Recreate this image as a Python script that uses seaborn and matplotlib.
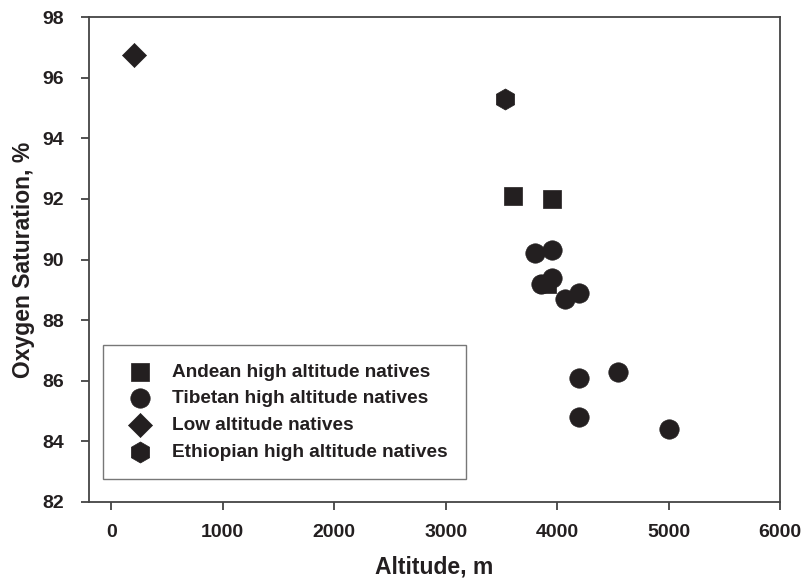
import matplotlib
matplotlib.use("Agg")
import matplotlib.pyplot as plt
import seaborn as sns
import pandas as pd

sns.set_theme(style="ticks")
plt.rcParams['font.family'] = ['Liberation Sans', 'DejaVu Sans']

groups = ["Andean high altitude natives", "Tibetan high altitude natives",
          "Low altitude natives", "Ethiopian high altitude natives"]

andean_alt = [3600, 3950, 3910]
andean_sat = [92.1, 92.0, 89.2]

tibetan_alt = [3800, 3950, 3860, 3950, 4070, 4200, 4200, 4550, 4200, 5000]
tibetan_sat = [90.2, 90.3, 89.2, 89.4, 88.7, 88.9, 86.1, 86.3, 84.8, 84.4]

low_alt = [200]
low_sat = [96.75]

ethiopian_alt = [3530]
ethiopian_sat = [95.3]

xticks = [0, 1000, 2000, 3000, 4000, 5000, 6000]
yticks = [82, 84, 86, 88, 90, 92, 94, 96, 98]

series = [
    (groups[0], andean_alt, andean_sat, "s", 160),
    (groups[1], tibetan_alt, tibetan_sat, "o", 195),
    (groups[2], low_alt, low_sat, "D", 150),
    (groups[3], ethiopian_alt, ethiopian_sat, "h", 230),
]

color = "#231f20"
fig = plt.figure(figsize=(8.02, 5.82), dpi=100)
ax = fig.add_axes([89/802, 1-502/582, (780-89)/802, (502-17)/582])

for name, xs, ys, mk, sz in series:
    df = pd.DataFrame({"Altitude": xs, "Saturation": ys})
    sns.scatterplot(data=df, x="Altitude", y="Saturation", marker=mk, s=sz,
                    color=color, edgecolor=color, linewidth=0.5, ax=ax,
                    label=name, zorder=3 if mk != "s" else 2)

ax.set_xlim(-200, 6000)
ax.set_ylim(82, 98)
ax.set_xticks(xticks)
ax.set_yticks(yticks)
ax.tick_params(axis="both", direction="out", length=6, width=1.2,
               color="#333333", labelsize=14)
ax.tick_params(axis="y", pad=12)
ax.tick_params(axis="x", pad=10)
for lab in ax.get_xticklabels() + ax.get_yticklabels():
    lab.set_fontweight("bold")
    lab.set_color("#231f20")
for sp in ax.spines.values():
    sp.set_visible(True)
    sp.set_linewidth(1.3)
    sp.set_color("#444444")

ax.set_xlabel("Altitude, m", fontsize=16.5, fontweight="bold", color="#231f20", labelpad=10)
ax.set_ylabel("Oxygen Saturation, %", fontsize=16.5, fontweight="bold", color="#231f20", labelpad=5)

leg = ax.legend(loc="lower left", bbox_to_anchor=(0.020, 0.047), fontsize=13.7,
                frameon=True, fancybox=False, edgecolor="#555555",
                borderpad=0.95, handletextpad=0.7, labelspacing=0.5,
                borderaxespad=0.0, markerscale=1.0)
leg.get_frame().set_linewidth(1.0)
for t in leg.get_texts():
    t.set_fontweight("bold")
    t.set_color("#231f20")

fig.savefig("out.png", dpi=100)
